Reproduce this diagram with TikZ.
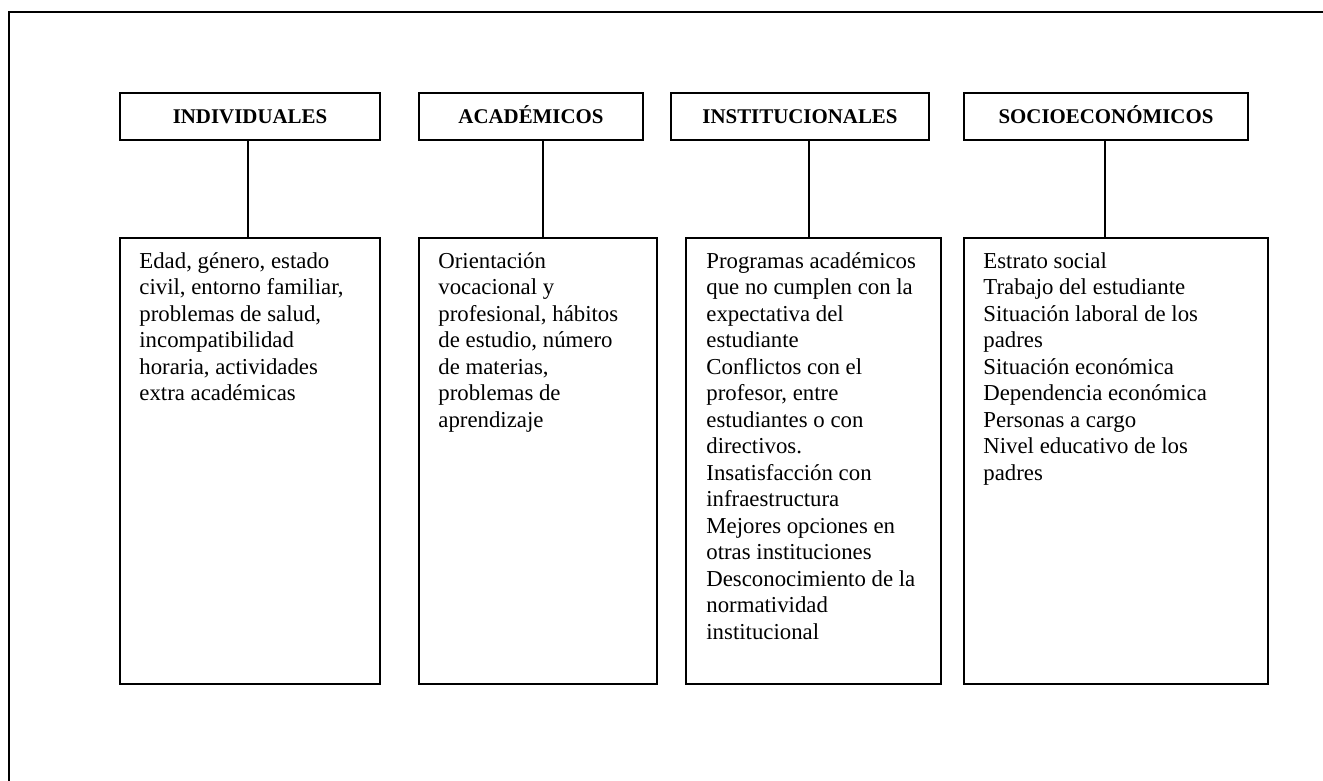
\documentclass[tikz,border=0pt]{standalone}
\usepackage{fontspec}
\setmainfont{Liberation Serif}
\usetikzlibrary{positioning}

\tikzset{
  head/.style={draw, line width=1pt, minimum height=23.5pt, inner sep=0pt,
    text height=6.9pt, text depth=0pt,
    font=\fontsize{10.45}{12}\selectfont\bfseries},
  factors/.style={draw, line width=1pt, minimum height=223pt, inner sep=0pt},
  factortext/.style={anchor=north west, align=left, inner sep=0pt,
    font=\fontsize{11.4}{13.25}\selectfont},
}

\begin{document}
\begin{tikzpicture}[x=0.5pt,y=-0.5pt]
  \useasboundingbox (0,0) rectangle (1323,781);
  % outer frame (cut at right and bottom)
  \draw[line width=1pt] (1323,12) -- (9,12) -- (9,781);

  % groups of factors
  \node[head, minimum width=130pt] (h1) at (250,116.5) {INDIVIDUALES};
  \node[head, minimum width=112pt] (h2) at (531,116.5) {ACADÉMICOS};
  \node[head, minimum width=129pt] (h3) at (800,116.5) {INSTITUCIONALES};
  \node[head, minimum width=142pt] (h4) at (1106,116.5) {SOCIOECONÓMICOS};

  \node[factors, minimum width=130pt] (d1) at (250,461) {};
  \node[factors, minimum width=119pt] (d2) at (538,461) {};
  \node[factors, minimum width=127.5pt] (d3) at (813.5,461) {};
  \node[factors, minimum width=152pt] (d4) at (1116,461) {};

  \node[factortext] (t1) at ([xshift=10pt,yshift=-7.5pt]d1.north west)
    {Edad, género, estado\\ civil, entorno familiar,\\ problemas de salud,\\
     incompatibilidad\\ horaria, actividades\\ extra académicas};
  \node[factortext] (t2) at ([xshift=10pt,yshift=-7.5pt]d2.north west)
    {Orientación\\ vocacional y\\ profesional, hábitos\\ de estudio, número\\
     de materias,\\ problemas de\\ aprendizaje};
  \node[factortext] (t3) at ([xshift=10.5pt,yshift=-7.5pt]d3.north west)
    {Programas académicos\\ que no cumplen con la\\ expectativa del\\ estudiante\\
     Conflictos con el\\ profesor, entre\\ estudiantes o con\\ directivos.\\
     Insatisfacción con\\ infraestructura\\ Mejores opciones en\\
     otras instituciones\\ Desconocimiento de la\\ normatividad\\ institucional};
  \node[factortext] (t4) at ([xshift=10pt,yshift=-7.5pt]d4.north west)
    {Estrato social\\ Trabajo del estudiante\\ Situación laboral de los\\ padres\\
     Situación económica\\ Dependencia económica\\ Personas a cargo\\
     Nivel educativo de los\\ padres};

  % links
  \foreach \i/\x in {1/248,2/543,3/809,4/1105}
    \draw[line width=1pt] (h\i.south -| \x,0) -- (d\i.north -| \x,0);
\end{tikzpicture}
\end{document}
